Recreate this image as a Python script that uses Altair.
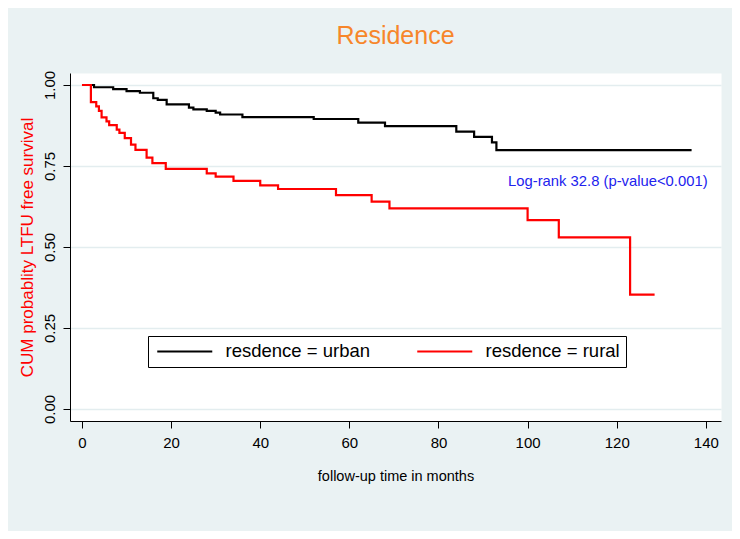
import altair as alt
import pandas as pd

# Kaplan-Meier steps
urban_t = [0, 2.7, 7, 10, 13, 16, 17, 19, 24, 25, 28, 30, 31, 36, 52, 62, 68, 84, 88, 92, 93, 136.8]
urban_s = [1.0, 0.993, 0.987, 0.981, 0.976, 0.959, 0.954, 0.940, 0.930, 0.925,
           0.920, 0.915, 0.909, 0.901, 0.895, 0.884, 0.873, 0.856, 0.840, 0.823, 0.799, 0.799]
rural_t = [0, 2, 3.2, 3.8, 4.4, 5.5, 6.1, 7.8, 8.4, 9.6, 11, 12, 14.5, 15.8, 18.8,
           28, 30, 34, 40, 44, 57, 65, 69, 100, 107, 123, 128.5]
rural_s = [1.0, 0.947, 0.934, 0.920, 0.900, 0.888, 0.876, 0.862, 0.852, 0.836,
           0.816, 0.800, 0.776, 0.759, 0.741, 0.727, 0.717, 0.704, 0.690, 0.679,
           0.660, 0.640, 0.619, 0.583, 0.530, 0.353, 0.353]
groups = ["resdence = urban", "resdence = rural"]
x_ticks = [0, 20, 40, 60, 80, 100, 120, 140]
y_ticks = [0, 0.25, 0.5, 0.75, 1.0]
annot_x = [118]
annot_y = [0.70]
annot_text = ["Log-rank 32.8 (p-value<0.001)"]

df = pd.concat([
    pd.DataFrame({"t": urban_t, "s": urban_s, "group": groups[0]}),
    pd.DataFrame({"t": rural_t, "s": rural_s, "group": groups[1]}),
])
ann = pd.DataFrame({"x": annot_x, "y": annot_y, "label": annot_text})

FONT = "Liberation Sans"
BG = "#EAF2F3"

xscale = alt.Scale(domain=[-2.69, 143.4], nice=False, zero=False)
yscale = alt.Scale(domain=[-0.037, 1.037], nice=False, zero=False)

lines = alt.Chart(df).mark_line(interpolate="step-after", strokeWidth=2.2, clip=True).encode(
    x=alt.X("t:Q", scale=xscale, axis=alt.Axis(
        values=x_ticks, format="d", title="follow-up time in months",
        titleFontSize=14.5, titleFontWeight="normal", titleFont=FONT, titleColor="black",
        titlePadding=19, labelFontSize=15, labelFont=FONT, labelColor="black",
        labelPadding=7, tickSize=7, tickColor="black", domainColor="black",
        grid=False)),
    y=alt.Y("s:Q", scale=yscale, axis=alt.Axis(
        values=y_ticks, format=".2f", title="CUM probablity LTFU free survival",
        titleFontSize=17, titleFontWeight="normal", titleFont=FONT, titleColor="#FF0000",
        titlePadding=6, labelFontSize=15, labelFont=FONT, labelColor="black",
        labelAngle=270, labelPadding=6, tickSize=7, tickColor="black",
        domainColor="black", grid=True, gridColor="#E3EDEF", gridWidth=1.5)),
    color=alt.Color("group:N", scale=alt.Scale(domain=groups, range=["#000000", "#FF0000"]),
                    legend=alt.Legend(title=None, orient="none", legendX=78, legendY=263,
                                      direction="horizontal", fillColor="white",
                                      strokeColor="black", padding=6,
                                      symbolType="M-1,0H8.17", symbolSize=144,
                                      symbolStrokeWidth=2, labelFontSize=18.5, labelFont=FONT,
                                      labelColor="black", labelOffset=53,
                                      columnPadding=42)),
)

text = alt.Chart(ann).mark_text(align="center", baseline="middle", fontSize=14.8,
                                font=FONT, color="#2222EE").encode(
    x=alt.X("x:Q", scale=xscale), y=alt.Y("y:Q", scale=yscale), text="label:N")

chart = alt.layer(lines, text).properties(
    width=651, height=348,
    padding={"left": 62, "top": 65, "right": 11, "bottom": 110},
    autosize=alt.AutoSizeParams(type="none"),
    background=BG,
    title=alt.TitleParams("Residence", fontSize=25, font=FONT, fontWeight="normal",
                          color="#F7862A", anchor="middle", frame="group",
                          baseline="alphabetic", offset=1),
).configure_view(fill="white", stroke="transparent")

chart.save("out.html", embed_options={"renderer": "svg", "actions": False})
